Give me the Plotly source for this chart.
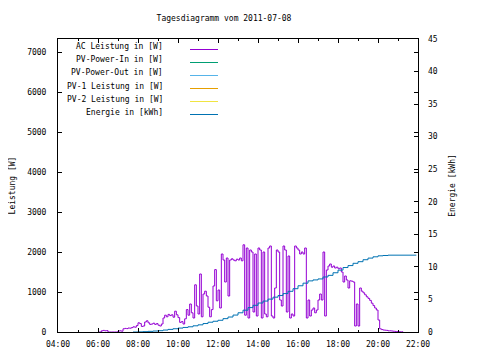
import plotly.graph_objects as go
import pandas as pd

DAY = "2011-07-08"
TITLE = "Tagesdiagramm vom 2011-07-08"

# AC power in W, 5-minute samples, one row per hour starting 06:00
ac_start = "06:00"
ac_rows = [
    [0, 0, 30, 40, 30, 35, 0, 0, 0, 0, 0, 0],                                   # 06
    [25, 30, 20, 80, 90, 85, 100, 95, 110, 130, 120, 160],                      # 07
    [230, 210, 140, 150, 250, 280, 230, 190, 200, 220, 190, 210],               # 08
    [170, 150, 200, 350, 420, 380, 440, 410, 430, 370, 520, 430],               # 09
    [360, 240, 260, 200, 330, 560, 420, 700, 480, 350, 1180, 650],              # 10
    [450, 1450, 380, 950, 1020, 900, 620, 380, 560, 1150, 1560, 780],           # 11
    [1050, 600, 1950, 1800, 1250, 1850, 900, 1800, 1830, 1800, 1780, 1820],     # 12
    [1800, 1850, 1780, 2180, 420, 2100, 350, 2050, 2000, 500, 1950, 400],       # 13
    [2100, 2050, 350, 2000, 450, 380, 2100, 2150, 400, 350, 1100, 2050],        # 14
    [2000, 800, 650, 2150, 2050, 500, 1900, 350, 450, 400, 2150, 2100],         # 15
    [2050, 1950, 2000, 1950, 2100, 350, 800, 400, 550, 600, 480, 550],          # 16
    [800, 950, 800, 2000, 400, 1550, 1650, 1700, 1620, 1650, 1600, 1620],       # 17
    [1580, 1600, 1500, 1250, 1400, 1300, 1100, 1280, 1270, 1250, 150, 700],     # 18
    [150, 1100, 1020, 980, 930, 880, 840, 790, 720, 660, 600, 550],             # 19
    [300, 80, 60, 50, 45, 40, 30, 30, 25, 20, 15, 10],                          # 20
    [10, 5, 5, 0],                                                              # 21
]
ac_values = [v for row in ac_rows for v in row]

# Energy in kWh
energy_times = ["07:45", "08:00", "08:15", "08:30", "08:45", "09:00", "09:15", "09:30",
                "09:45", "10:00", "10:15", "10:30", "10:45", "11:00", "11:15", "11:30",
                "11:45", "12:00", "12:15", "12:30", "12:45", "13:00", "13:15", "13:30",
                "13:45", "14:00", "14:15", "14:30", "14:45", "15:00", "15:15", "15:30",
                "15:45", "16:00", "16:15", "16:30", "16:45", "17:00", "17:15", "17:30",
                "17:45", "18:00", "18:15", "18:30", "18:45", "19:00", "19:15", "19:30",
                "19:45", "20:00", "20:15", "20:30", "21:55"]
energy_values = [0.0, 0.02, 0.05, 0.1, 0.15, 0.2, 0.3, 0.4,
                 0.5, 0.6, 0.7, 0.8, 0.95, 1.1, 1.3, 1.5,
                 1.65, 1.8, 2.05, 2.3, 2.6, 2.95, 3.35, 3.75,
                 4.1, 4.45, 4.75, 5.05, 5.35, 5.6, 5.9, 6.25,
                 6.65, 7.1, 7.5, 7.85, 8.0, 8.15, 8.45, 8.7,
                 9.1, 9.5, 9.9, 10.2, 10.55, 10.8, 11.1, 11.35,
                 11.55, 11.7, 11.75, 11.8, 11.8]

# Series without data this day
pv_in_values = []
pv_out_values = []
pv1_values = []
pv2_values = []

series_names = ["AC Leistung in [W]", "PV-Power-In in [W]", "PV-Power-Out in [W]",
                "PV-1 Leistung in [W]", "PV-2 Leistung in [W]", "Energie in [kWh]"]
series_colors = ["#9400d3", "#009e73", "#56b4e9", "#e69f00", "#f0e442", "#0072b2"]

x_ticks = ["04:00", "06:00", "08:00", "10:00", "12:00", "14:00", "16:00", "18:00", "20:00", "22:00"]

FONT = "DejaVu Sans Mono"

ac_times = pd.date_range(f"{DAY} {ac_start}", periods=len(ac_values), freq="5min")
energy_x = [f"{DAY} {t}" for t in energy_times]

fig = go.Figure()
fig.add_trace(go.Scatter(x=ac_times, y=ac_values, mode="lines", line_shape="hv",
                         line=dict(color=series_colors[0], width=1), name=series_names[0],
                         showlegend=False))
for vals, nm, col in zip([pv_in_values, pv_out_values, pv1_values, pv2_values],
                         series_names[1:5], series_colors[1:5]):
    fig.add_trace(go.Scatter(x=[], y=vals, mode="lines", line=dict(color=col, width=1),
                             name=nm, showlegend=False))
fig.add_trace(go.Scatter(x=energy_x, y=energy_values, mode="lines", line_shape="hv",
                         line=dict(color=series_colors[5], width=1), name=series_names[5],
                         yaxis="y2", showlegend=False))

# page has an 8px body margin; figure is sized to fit the 480x360 window
OFF = 8
W, H = 480 - OFF, 360 - OFF
L, R, T, B = 58, 418, 39, 332          # plot frame in page pixels
pw, ph = R - L, B - T

# custom gnuplot-style legend
annotations = []
shapes = []
for i, (nm, col) in enumerate(zip(series_names, series_colors)):
    line_row = 49 + 13 * i
    y_line = (B - (line_row + 0.5)) / ph
    y_text = (B - (line_row - 2)) / ph
    annotations.append(dict(text=nm, x=(165 - L) / pw, y=y_text, xref="paper", yref="paper",
                            xanchor="right", yanchor="middle", showarrow=False,
                            font=dict(family=FONT, size=8, color="black")))
    shapes.append(dict(type="line", xref="paper", yref="paper", x0=(190 - L) / pw,
                       x1=(218 - L) / pw, y0=y_line, y1=y_line, line=dict(color=col, width=1)))

tickfont = dict(family=FONT, size=8, color="black")
fig.update_layout(
    width=W, height=H, autosize=False,
    margin=dict(l=L - OFF, r=480 - R, t=T - OFF, b=360 - B, pad=0),
    paper_bgcolor="white", plot_bgcolor="white",
    showlegend=False,
    title=dict(text=TITLE, x=(224 - OFF) / W, xref="container", xanchor="center",
               y=1 - (18 - OFF) / H, yref="container", yanchor="middle",
               font=dict(family=FONT, size=8, color="black")),
    xaxis=dict(type="date", range=[f"{DAY} 04:00", f"{DAY} 22:00"], automargin=False,
               tickvals=[f"{DAY} {t}" for t in x_ticks], ticktext=x_ticks,
               ticks="inside", ticklen=4, tickcolor="black", tickwidth=1,
               minor=dict(dtick=3600000, ticks="inside", ticklen=2, tickcolor="black"),
               showline=True, linecolor="black", linewidth=1, mirror="ticks",
               showgrid=False, zeroline=False, tickfont=tickfont, ticklabelstandoff=4),
    yaxis=dict(range=[0, 7325], dtick=1000, ticks="inside", ticklen=4, tickcolor="black",
               showline=True, linecolor="black", linewidth=1, mirror="ticks", automargin=False,
               showgrid=False, zeroline=False, tickfont=tickfont, ticklabelstandoff=9,
               title=dict(text="Leistung [W]", font=tickfont, standoff=10)),
    yaxis2=dict(range=[0, 45], dtick=5, overlaying="y", side="right", ticks="inside",
                ticklen=4, tickcolor="black", showline=False, showgrid=False, automargin=False,
                zeroline=False, tickfont=tickfont, ticklabelstandoff=9,
                title=dict(text="Energie [kWh]", font=tickfont, standoff=12)),
    annotations=annotations, shapes=shapes,
)

fig.write_html("out.html")
